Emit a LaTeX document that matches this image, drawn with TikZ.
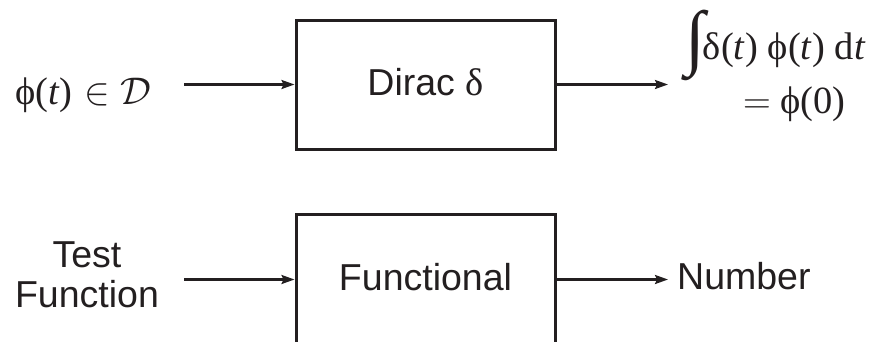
\RequirePackage{fix-cm}
\documentclass[tikz,border=0pt]{standalone}
\usepackage{fontspec}
\setmainfont{Liberation Serif}
\newfontfamily\sansf{Liberation Sans}
\usetikzlibrary{arrows.meta}
\definecolor{ink}{RGB}{35,31,32}
\begin{document}
\begin{tikzpicture}[x=1pt,y=-1pt,
  every node/.style={text=ink},
  blk/.style={draw=ink, line width=3pt, minimum width=259pt, inner sep=0pt,
    text height=27pt, text depth=6pt, font=\sansf\fontsize{37.5}{40}\selectfont},
  sanslbl/.style={font=\sansf\fontsize{37.5}{40}\selectfont, inner sep=0pt},
  seriflbl/.style={font=\fontsize{38.5}{40}\selectfont, inner sep=0pt},
  arr/.style={draw=ink, line width=2.2pt, -{Stealth[length=13pt,width=9pt,inset=2pt]}}]
\useasboundingbox (0,0) rectangle (873,341);
\clip (0,0) rectangle (873,341);
% boxes
\node[blk, minimum height=129pt] (dirac) at (425.5,84.5) {Dirac {\rmfamily\fontsize{38.5}{40}\selectfont δ}};
\node[blk, minimum height=131pt] (func) at (425.5,279.5) {Functional};
% top row labels
\node[seriflbl, anchor=base west] (phi) at (15,104) {ϕ(\textit{t})\hspace{12pt}$\in$\hspace{10pt}$\mathcal{D}$};
\node[seriflbl, anchor=base west] (res1) at (685,59) {\raisebox{-2.5pt}{\fontsize{72}{74}\selectfont ∫}\hspace{-2pt}δ(\textit{t}) ϕ(\textit{t}) d\textit{t}};
\node[seriflbl, anchor=base west] (res2) at (743,113) {$=$ ϕ(0)};
% bottom row labels
\node[sanslbl, align=center] (test) at (87,275) {Test\\Function};
\node[sanslbl, anchor=base west] (num) at (677,289.5) {Number};
% connectors
\coordinate (in1) at (184,84.5);
\coordinate (out1) at (668,84.5);
\coordinate (in2) at (184,279.5);
\coordinate (out2) at (668,279.5);
\draw[arr] (in1) -- (dirac.west);
\draw[arr] (dirac.east) -- (out1);
\draw[arr] (in2) -- (func.west);
\draw[arr] (func.east) -- (out2);
\end{tikzpicture}
\end{document}
